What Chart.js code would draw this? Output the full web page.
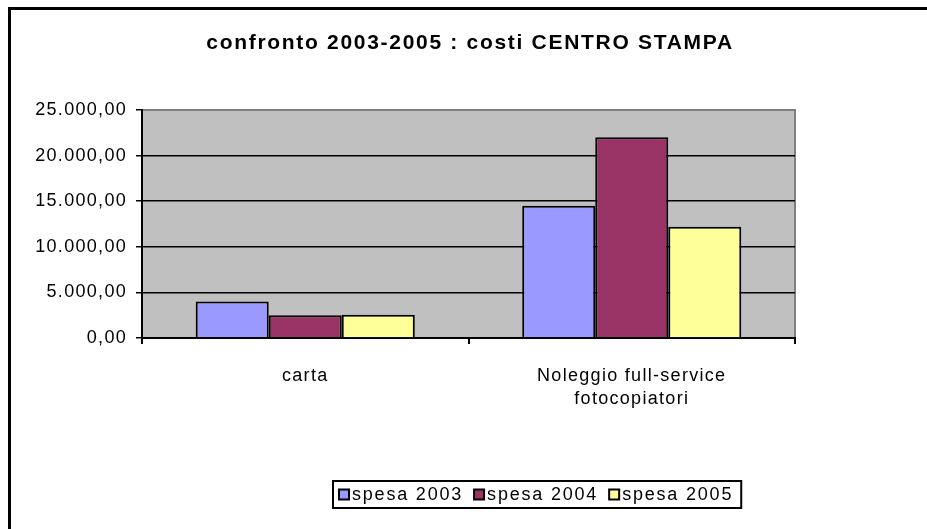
<!DOCTYPE html>
<html>
<head>
<meta charset="utf-8">
<script src="https://cdn.jsdelivr.net/npm/chart.js@4.4.0/dist/chart.umd.min.js"></script>
<style>
  html, body { margin: 0; padding: 0; background: #fff; }
  #wrap { width: 927px; height: 529px; }
</style>
</head>
<body>
<div id="wrap"><canvas id="myChart"></canvas></div>
<script>
const title = "confronto 2003-2005 : costi CENTRO STAMPA";
const categories = ["carta", ["Noleggio full-service", "fotocopiatori"]];
const seriesNames = ["spesa 2003", "spesa 2004", "spesa 2005"];
const spesa2003 = [4000, 14500];
const spesa2004 = [2500, 22000];
const spesa2005 = [2550, 12200];
const colors = ["#9999FF", "#993366", "#FFFF99"];
const yMax = 25000;
const yStep = 5000;

const FONT = "'Liberation Sans', Arial, sans-serif";
const SPACING = "1.3px";

// 25000 -> "25.000,00"
function formatIt(v) {
  const parts = Math.round(v).toString().replace(/\B(?=(\d{3})+(?!\d))/g, ".");
  return parts + ",00";
}

// background, frame, title and legend
const framePlugin = {
  id: "frame",
  beforeLayout(chart) {
    chart.ctx.letterSpacing = SPACING;
  },
  beforeDraw(chart) {
    const ctx = chart.ctx;
    const a = chart.chartArea;
    ctx.save();
    ctx.fillStyle = "#fff";
    ctx.fillRect(0, 0, chart.width, chart.height);
    ctx.fillStyle = "#C0C0C0";
    ctx.fillRect(a.left, a.top, a.right - a.left, a.bottom - a.top);
    ctx.strokeStyle = "#808080";
    ctx.lineWidth = 2;
    ctx.beginPath();
    ctx.moveTo(a.left, a.top);
    ctx.lineTo(a.right, a.top);
    ctx.lineTo(a.right, a.bottom);
    ctx.stroke();
    ctx.restore();
    ctx.letterSpacing = SPACING;
  },
  afterDraw(chart) {
    const ctx = chart.ctx;
    ctx.save();
    // outer frame, runs off the right and bottom edge
    ctx.strokeStyle = "#000";
    ctx.lineWidth = 3;
    ctx.strokeRect(9.5, 8.5, chart.width + 20, chart.height + 20);

    // title
    ctx.fillStyle = "#000";
    ctx.font = "bold 21px " + FONT;
    ctx.letterSpacing = "1.7px";
    ctx.textAlign = "center";
    ctx.textBaseline = "middle";
    ctx.fillText(title, 470, 43);

    // legend
    ctx.font = "18px " + FONT;
    ctx.letterSpacing = "1.8px";
    ctx.textAlign = "left";
    const boxL = 333, boxT = 481, boxH = 27;
    let x = boxL + 6;
    const yMid = boxT + boxH / 2;
    chart.data.datasets.forEach((ds, i) => {
      ctx.fillStyle = ds.backgroundColor;
      ctx.fillRect(x, yMid - 5, 10, 10);
      ctx.strokeStyle = "#000";
      ctx.lineWidth = 2;
      ctx.strokeRect(x, yMid - 5, 10, 10);
      x += 13;
      ctx.fillStyle = "#000";
      ctx.fillText(ds.label, x, yMid + 1);
      x += ctx.measureText(ds.label).width + 11;
    });
    ctx.strokeStyle = "#000";
    ctx.lineWidth = 2;
    ctx.strokeRect(boxL, boxT, x - boxL - 3, boxH);
    ctx.restore();
  }
};

const ctx = document.getElementById("myChart");
const config = {
  type: "bar",
  data: {
    labels: categories,
    datasets: [
      { label: seriesNames[0], data: spesa2003, backgroundColor: colors[0] },
      { label: seriesNames[1], data: spesa2004, backgroundColor: colors[1] },
      { label: seriesNames[2], data: spesa2005, backgroundColor: colors[2] },
    ],
  },
  options: {
    responsive: true,
    maintainAspectRatio: false,
    animation: false,
    devicePixelRatio: 1,
    layout: { padding: { top: 110, right: 132, bottom: 111, left: 0 } },
    datasets: {
      bar: {
        borderColor: "#000",
        borderWidth: 2,
        categoryPercentage: 0.671,
        barPercentage: 1,
      },
    },
    plugins: {
      legend: { display: false },
      title: { display: false },
      tooltip: { enabled: false },
    },
    scales: {
      x: {
        offset: true,
        afterFit(scale) { scale.height = 80; },
        grid: {
          offset: true,
          drawOnChartArea: false,
          drawTicks: true,
          tickLength: 6,
          tickColor: "#000",
          lineWidth: 2,
        },
        border: { color: "#000", width: 2 },
        ticks: {
          color: "#000",
          font: { family: FONT, size: 18, lineHeight: 1.3 },
          padding: 20,
          maxRotation: 0,
        },
      },
      y: {
        min: 0,
        max: yMax,
        afterFit(scale) { scale.width = 142; },
        grid: {
          color: (c) => (c.tick && c.tick.value === yMax ? "#808080" : "#000"),
          lineWidth: 1.5,
          tickLength: 6,
          tickColor: "#000",
        },
        border: { color: "#000", width: 2 },
        ticks: {
          stepSize: yStep,
          color: "#000",
          font: { family: FONT, size: 18 },
          padding: 9,
          callback: (v) => formatIt(v),
        },
      },
    },
  },
  plugins: [framePlugin],
};
const myChart = new Chart(ctx, config);
</script>
</body>
</html>
